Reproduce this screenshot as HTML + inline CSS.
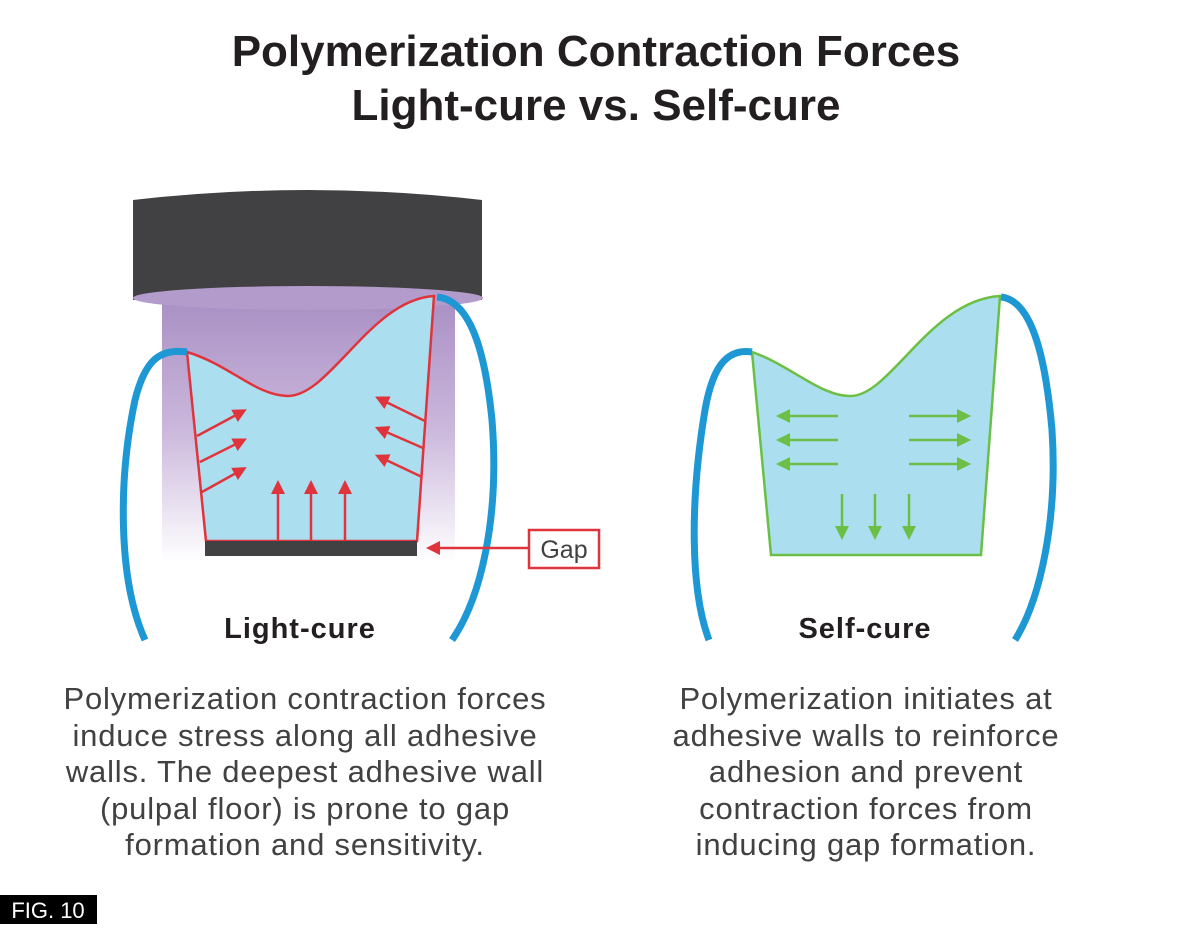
<!DOCTYPE html>
<html><head><meta charset="utf-8"><style>
body{margin:0;background:#fff;width:1190px;height:925px;overflow:hidden;font-family:"Liberation Sans",sans-serif}
</style></head><body>
<svg width="1190" height="925" viewBox="0 0 1190 925" xmlns="http://www.w3.org/2000/svg">
<defs>
<linearGradient id="beam" x1="0" y1="0" x2="0" y2="1">
<stop offset="0" stop-color="#a98fc4"/><stop offset="0.5" stop-color="#cbb8dc"/><stop offset="1" stop-color="#ffffff"/>
</linearGradient>
<marker id="ra" markerWidth="14" markerHeight="14" refX="4" refY="7" orient="auto" markerUnits="userSpaceOnUse"><path d="M0,0 L14,7 L0,14z" fill="#e0343c"/></marker>
<marker id="ga" markerWidth="14" markerHeight="14" refX="4" refY="7" orient="auto" markerUnits="userSpaceOnUse"><path d="M0,0 L14,7 L0,14z" fill="#6cbf45"/></marker>
</defs>
<g font-family="Liberation Sans, sans-serif" font-weight="bold" fill="#231f20" text-anchor="middle">
<text x="596" y="66" font-size="44">Polymerization Contraction Forces</text>
<text x="596" y="120" font-size="44">Light-cure vs. Self-cure</text>
</g>
<rect x="162" y="298" width="293" height="265" fill="url(#beam)"/>
<path d="M133,200 Q308,180 482,200 L482,300 Q308,285 133,300 Z" fill="#414042"/>
<ellipse cx="308" cy="298" rx="175" ry="12" fill="#b39bcc"/>
<path d="M187,352 C230,365 255,395 287,396 C330,397 370,300 434,296 L417,541 L206,541 Z" fill="#abdff0" stroke="#e0343c" stroke-width="2.5"/>
<rect x="205" y="541" width="212" height="15" fill="#414042"/>
<path d="M187,352 C160,348 145,360 135,400 C118,480 118,580 145,640" fill="none" stroke="#1e98d4" stroke-width="7"/>
<path d="M437,297 C470,300 485,350 492,420 C500,520 480,600 452,640" fill="none" stroke="#1e98d4" stroke-width="7"/>
<g stroke="#e0343c" stroke-width="2.5" fill="none" marker-end="url(#ra)">
<line x1="197" y1="436" x2="238" y2="414"/><line x1="200" y1="462" x2="238" y2="443"/><line x1="202" y1="492" x2="238" y2="472"/>
<line x1="425" y1="421" x2="384" y2="401"/><line x1="423" y1="448" x2="384" y2="431"/><line x1="422" y1="477" x2="384" y2="459"/>
<line x1="278" y1="541" x2="278" y2="490"/><line x1="311" y1="541" x2="311" y2="490"/><line x1="345" y1="541" x2="345" y2="490"/>
<line x1="528" y1="548" x2="436" y2="548"/>
</g>
<rect x="529" y="530" width="70" height="38" fill="#fff" stroke="#e0343c" stroke-width="2.5"/>
<text x="564" y="558" font-size="25" text-anchor="middle" fill="#414042">Gap</text>
<path d="M752,352 C790,365 820,396 850,396 C890,397 930,300 1000,296 L981,555 L771,555 Z" fill="#abdff0" stroke="#6cbf45" stroke-width="2.5"/>
<path d="M752,352 C725,348 712,370 705,410 C690,500 690,590 709,640" fill="none" stroke="#1e98d4" stroke-width="7"/>
<path d="M1001,297 C1030,300 1045,350 1052,430 C1058,520 1040,600 1015,640" fill="none" stroke="#1e98d4" stroke-width="7"/>
<g stroke="#6cbf45" stroke-width="2.5" fill="none" marker-end="url(#ga)">
<line x1="838" y1="416" x2="786" y2="416"/><line x1="838" y1="440" x2="786" y2="440"/><line x1="838" y1="464" x2="786" y2="464"/>
<line x1="909" y1="416" x2="961" y2="416"/><line x1="909" y1="440" x2="961" y2="440"/><line x1="909" y1="464" x2="961" y2="464"/>
<line x1="842" y1="494" x2="842" y2="530"/><line x1="875" y1="494" x2="875" y2="530"/><line x1="909" y1="494" x2="909" y2="530"/>
</g>
<g font-weight="bold" font-size="29" fill="#231f20" text-anchor="middle" letter-spacing="1">
<text x="300" y="638">Light-cure</text>
<text x="865" y="638">Self-cure</text>
</g>
<g font-size="31" fill="#414042" text-anchor="middle" letter-spacing="0.8">
<text x="305" y="709">Polymerization contraction forces</text>
<text x="305" y="746">induce stress along all adhesive</text>
<text x="305" y="782">walls. The deepest adhesive wall</text>
<text x="305" y="819">(pulpal floor) is prone to gap</text>
<text x="305" y="855">formation and sensitivity.</text>
<text x="866" y="709">Polymerization initiates at</text>
<text x="866" y="746">adhesive walls to reinforce</text>
<text x="866" y="782">adhesion and prevent</text>
<text x="866" y="819">contraction forces from</text>
<text x="866" y="855">inducing gap formation.</text>
</g>
<rect x="0" y="895" width="97" height="29" fill="#000"/>
<text x="48" y="918" font-size="22" fill="#fff" text-anchor="middle">FIG. 10</text>
</svg>
</body></html>
